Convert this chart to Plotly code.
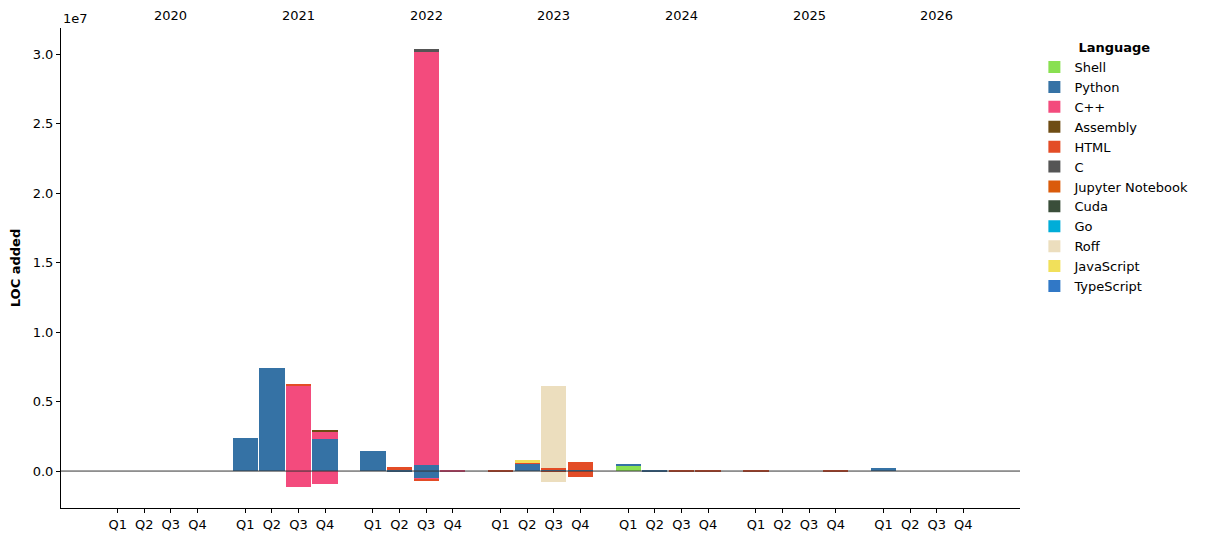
import plotly.graph_objects as go

# ---------------- data ----------------
years = ["2020", "2021", "2022", "2023", "2024", "2025", "2026"]
quarters = ["Q1", "Q2", "Q3", "Q4"]
languages = ["Shell", "Python", "C++", "Assembly", "HTML", "C",
             "Jupyter Notebook", "Cuda", "Go", "Roff", "JavaScript", "TypeScript"]
colors = ["#89e051", "#3572A5", "#f34b7d", "#6E4C13", "#e34c26", "#555555",
          "#DA5B0B", "#3A4E3A", "#00ADD8", "#ecdebe", "#f1e05a", "#3178c6"]

# 28 quarters: 2020Q1 .. 2026Q4 (positive = added, negative = net removed)
shell_pos = [0, 0, 0, 0,  0, 0, 0, 0,  0, 0, 0, 0,  0, 0, 0, 0,  430000, 0, 0, 0,  0, 0, 0, 0,  0, 0, 0, 0]
shell_neg = [0] * 28
python_pos = [0, 0, 0, 0,  2370000, 7400000, 0, 2300000,  1440000, 80000, 430000, 0,  0, 530000, 80000, 70000,  70000, 70000, 0, 0,  0, 0, 0, 0,  200000, 0, 0, 0]
python_neg = [0, 0, 0, 0,  0, 0, 0, 0,  0, -30000, -500000, 0,  0, 0, 0, 0,  0, 0, 0, 0,  0, 0, 0, 0,  0, 0, 0, 0]
cpp_pos = [0, 0, 0, 0,  0, 0, 6150000, 530000,  0, 0, 29730000, 80000,  0, 0, 0, 0,  0, 0, 0, 0,  0, 0, 0, 0,  0, 0, 0, 0]
cpp_neg = [0, 0, 0, 0,  0, 0, -1130000, -910000,  0, 0, -100000, 0,  0, 0, 0, 0,  0, 0, 0, 0,  0, 0, 0, 0,  0, 0, 0, 0]
assembly_pos = [0, 0, 0, 0,  0, 0, 0, 120000,  0, 0, 0, 0,  0, 0, 0, 0,  0, 0, 0, 0,  0, 0, 0, 0,  0, 0, 0, 0]
assembly_neg = [0] * 28
html_pos = [0, 0, 0, 0,  0, 0, 70000, 0,  0, 200000, 0, 0,  90000, 120000, 150000, 550000,  0, 0, 70000, 70000,  70000, 0, 0, 70000,  0, 0, 0, 0]
html_neg = [0, 0, 0, 0,  0, 0, 0, 0,  0, 0, -120000, 0,  0, 0, -100000, -400000,  0, 0, 0, 0,  0, 0, 0, 0,  0, 0, 0, 0]
c_pos = [0, 0, 0, 0,  0, 0, 0, 0,  0, 0, 200000, 0,  0, 0, 0, 0,  0, 0, 0, 0,  0, 0, 0, 0,  0, 0, 0, 0]
c_neg = [0] * 28
jupyter_pos = [0] * 28
jupyter_neg = [0] * 28
cuda_pos = [0] * 28
cuda_neg = [0] * 28
go_pos = [0] * 28
go_neg = [0] * 28
roff_pos = [0, 0, 0, 0,  0, 0, 0, 0,  0, 0, 0, 0,  0, 0, 5870000, 0,  0, 0, 0, 0,  0, 0, 0, 0,  0, 0, 0, 0]
roff_neg = [0, 0, 0, 0,  0, 0, 0, 0,  0, 0, 0, 0,  0, 0, -700000, 0,  0, 0, 0, 0,  0, 0, 0, 0,  0, 0, 0, 0]
javascript_pos = [0, 0, 0, 0,  0, 0, 0, 0,  0, 0, 0, 0,  0, 140000, 0, 0,  0, 0, 0, 0,  0, 0, 0, 0,  0, 0, 0, 0]
javascript_neg = [0] * 28
typescript_pos = [0] * 28
typescript_neg = [0] * 28

series_pos = [shell_pos, python_pos, cpp_pos, assembly_pos, html_pos, c_pos,
              jupyter_pos, cuda_pos, go_pos, roff_pos, javascript_pos, typescript_pos]
series_neg = [shell_neg, python_neg, cpp_neg, assembly_neg, html_neg, c_neg,
              jupyter_neg, cuda_neg, go_neg, roff_neg, javascript_neg, typescript_neg]

y_tick_vals = [0, 5e6, 1e7, 1.5e7, 2e7, 2.5e7, 3e7]
y_tick_text = ["0.0", "0.5", "1.0", "1.5", "2.0", "2.5", "3.0"]

# ---------------- layout helpers ----------------
YEAR_GAP = 0.8
positions = [yi * (4 + YEAR_GAP) + qi for yi in range(len(years)) for qi in range(len(quarters))]
tick_text = [q for _ in years for q in quarters]
year_centers = [yi * (4 + YEAR_GAP) + 2 for yi in range(len(years))]

FONT = "DejaVu Sans"

fig = go.Figure()
for lang, col, pos_vals, neg_vals in zip(languages, colors, series_pos, series_neg):
    pv = [v if v != 0 else None for v in pos_vals]
    nv = [v if v != 0 else None for v in neg_vals]
    fig.add_trace(go.Bar(x=positions, y=pv, name=lang, marker_color=col,
                         marker_line_width=0, width=0.95,
                         legendgroup=lang, showlegend=True))
    fig.add_trace(go.Bar(x=positions, y=nv, name=lang, marker_color=col,
                         marker_line_width=0, width=0.95,
                         legendgroup=lang, showlegend=False))

# zero line on top of bars
fig.add_shape(type="line", xref="paper", yref="y", x0=0, x1=1, y0=0, y1=0,
              line=dict(color="#333333", width=1), layer="above")

for yr, xc in zip(years, year_centers):
    fig.add_annotation(x=xc, y=1, xref="x", yref="paper", text=yr, showarrow=False,
                       yanchor="bottom", yshift=3, font=dict(size=13, color="black", family=FONT))

fig.add_annotation(x=0, y=1, xref="paper", yref="paper", text="1e7", showarrow=False,
                   xanchor="left", yanchor="bottom", yshift=0, xshift=0,
                   font=dict(size=13, color="black", family=FONT))

fig.update_layout(
    width=1209, height=542,
    barmode="relative", bargap=0,
    paper_bgcolor="white", plot_bgcolor="white",
    margin=dict(l=53, r=197, t=20, b=42, autoexpand=False),
    font=dict(family=FONT, size=13, color="black"),
    legend=dict(
        title=dict(text="<b>Language</b>", side="top center", font=dict(size=13, family=FONT)),
        traceorder="normal", x=1.015, y=0.985, xanchor="left", yanchor="top",
        font=dict(size=13, family=FONT), tracegroupgap=1, itemsizing="constant",
        bgcolor="rgba(0,0,0,0)",
    ),
    xaxis=dict(
        range=[-2.13, 33.93], tickmode="array", tickvals=positions, ticktext=tick_text,
        showgrid=False, zeroline=False, showline=True, linecolor="black", linewidth=1,
        ticks="outside", ticklen=4, tickcolor="black", mirror=False, automargin=False,
        tickfont=dict(size=13, family=FONT),
    ),
    yaxis=dict(
        range=[-2.66e6, 3.19e7], tickmode="array", tickvals=y_tick_vals, ticktext=y_tick_text,
        showgrid=False, zeroline=False, showline=True, linecolor="black", linewidth=1,
        ticks="outside", ticklen=4, tickcolor="black", automargin=False,
        tickfont=dict(size=13, family=FONT),
        title=dict(text="<b>LOC added</b>", font=dict(size=13, family=FONT), standoff=10),
    ),
)

fig.write_html("out.html")
